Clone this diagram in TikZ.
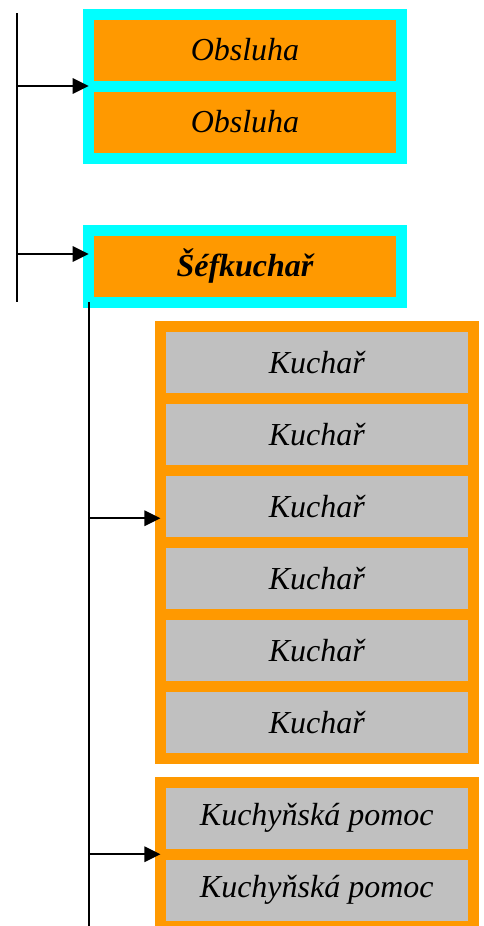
\documentclass[tikz,border=0pt]{standalone}
\usepackage{fontspec}
\setmainfont{Liberation Serif}
\usetikzlibrary{positioning,arrows.meta,calc}
\definecolor{framecyan}{HTML}{00FFFF}
\definecolor{boxorange}{HTML}{FF9900}
\definecolor{boxgray}{HTML}{C0C0C0}
\tikzset{
  staff/.style={draw=framecyan,fill=boxorange,line width=8.25pt,outer sep=0pt,
    minimum width=234.5pt,minimum height=54pt,font=\fontsize{24}{28}\selectfont\itshape},
  cook/.style={staff,draw=boxorange,fill=boxgray},
  arr/.style={-{Triangle[length=12pt,width=11.5pt]},line width=1.6pt},
  bus/.style={line width=1.6pt},
}
\begin{document}
\begin{tikzpicture}[x=0.75pt,y=-0.75pt]
      \useasboundingbox (0,0) rectangle (483,926);
      \node[staff] (o1) at (245,50) {Obsluha};
      \node[staff,below=0pt of o1] (o2) {Obsluha};
      \node[staff,font=\fontsize{24}{28}\selectfont\bfseries\itshape] (chef) at (245,266) {Šéfkuchař};

      \node[cook] (k1) at (316.8,362.2) {Kuchař};
      \node[cook,below=0pt of k1] (k2) {Kuchař};
      \node[cook,below=0pt of k2] (k3) {Kuchař};
      \node[cook,below=0pt of k3] (k4) {Kuchař};
      \node[cook,below=0pt of k4] (k5) {Kuchař};
      \node[cook,below=0pt of k5] (k6) {Kuchař};

      \node[cook] (h1) at (316.8,818.2) {Kuchyňská pomoc};
      \node[cook,below=0pt of h1] (h2) {Kuchyňská pomoc};

      \coordinate (top) at (16.7,13.3);
      \coordinate (topend) at (16.7,302.3);
      \coordinate (chefin) at ($(chef.west)+(0,-12)$);
      \coordinate (cookend) at ($(chef.south west)+(0,630)$);
      \coordinate (cookin) at ($(k3.west)+(0,12)$);

      \draw[bus] (top) -- (topend);
      \draw[arr] (top |- o1.south west) -- (o1.south west);
      \draw[arr] (top |- chefin) -- (chefin);

      \draw[bus] (chef.south west) -- (cookend);
      \draw[arr] (chef.south west |- cookin) -- (cookin);
      \draw[arr] (chef.south west |- h1.south west) -- (h1.south west);
    \end{tikzpicture}
\end{document}
